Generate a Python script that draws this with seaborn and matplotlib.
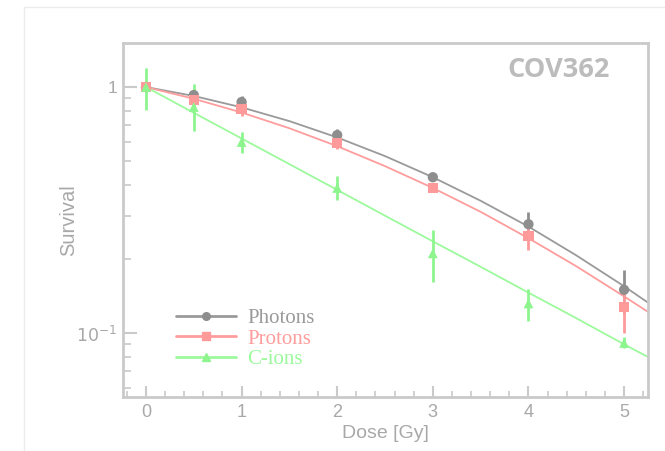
import numpy as np
import pandas as pd
import matplotlib
matplotlib.use("Agg")
import matplotlib.pyplot as plt
from matplotlib.lines import Line2D
from matplotlib.patches import Rectangle
from matplotlib.ticker import FixedLocator, NullFormatter
import seaborn as sns

# ---------------- data ----------------
dose_pts = [0, 0.5, 1, 2, 3, 4, 5]

photons = [1.0, 0.928, 0.869, 0.638, 0.430, 0.277, 0.150]
photons_lo = [0.01, 0.03, 0.05, 0.035, 0.01, 0.03, 0.03]
photons_hi = [0.01, 0.03, 0.05, 0.035, 0.01, 0.035, 0.03]

protons = [1.0, 0.885, 0.814, 0.592, 0.389, 0.248, 0.128]
protons_lo = [0.01, 0.04, 0.05, 0.03, 0.01, 0.03, 0.028]
protons_hi = [0.01, 0.04, 0.05, 0.03, 0.01, 0.022, 0.018]

cions = [1.0, 0.83, 0.598, 0.389, 0.211, 0.132, 0.0912]
cions_lo = [0.19, 0.17, 0.06, 0.042, 0.05, 0.02, 0.004]
cions_hi = [0.2, 0.2, 0.06, 0.046, 0.051, 0.019, 0.005]

# fitted survival curves, read at regular doses
dose_fit = [0, 0.5, 1, 1.5, 2, 2.5, 3, 3.5, 4, 4.5, 5, 5.25]
photons_fit = [1.0, 0.920, 0.827, 0.727, 0.624, 0.524, 0.430, 0.345, 0.271, 0.207, 0.155, 0.133]
protons_fit = [1.0, 0.896, 0.788, 0.680, 0.575, 0.477, 0.389, 0.311, 0.243, 0.187, 0.141, 0.122]
cions_fit = [1.0, 0.786, 0.618, 0.486, 0.382, 0.300, 0.236, 0.186, 0.146, 0.115, 0.090, 0.080]

series_names = ["Photons", "Protons", "C-ions"]
x_ticks = [0, 1, 2, 3, 4, 5]
title_text = "COV362"
xlabel = "Dose [Gy]"
ylabel = "Survival"

# ---------------- style ----------------
sns.set_theme(style="white")
plt.rcParams["font.family"] = ["Liberation Sans", "DejaVu Sans"]

colors = {"Photons": "#9a9a9a", "Protons": "#ff9c9c", "C-ions": "#9cfa9c"}
mcolors = {"Photons": "#8e8e8e", "Protons": "#ff9a9a", "C-ions": "#8ef58e"}
markers = {"Photons": "o", "Protons": "s", "C-ions": "^"}
axis_col = "#cacaca"
text_col = "#a8a8a8"

W, H = 665, 451
fig = plt.figure(figsize=(W / 100, H / 100), dpi=100)
fig.patch.set_facecolor("white")

# faint outer frame
fig.patches.append(Rectangle((24 / W, -0.1), 1.2, 1 - 7 / H + 0.1,
                             transform=fig.transFigure, fill=False,
                             edgecolor="#ececec", linewidth=1.0))

ax = fig.add_axes([123 / W, 1 - 397 / H, 525 / W, 354 / H])
ax.set_facecolor("white")

fit_df = pd.DataFrame({
    "dose": dose_fit * 3,
    "survival": photons_fit + protons_fit + cions_fit,
    "series": ["Photons"] * len(dose_fit) + ["Protons"] * len(dose_fit) + ["C-ions"] * len(dose_fit),
})
sns.lineplot(data=fit_df, x="dose", y="survival", hue="series", palette=colors,
             ax=ax, legend=False, linewidth=1.3, sort=True, estimator=None)

pts = {"Photons": (photons, photons_lo, photons_hi),
       "Protons": (protons, protons_lo, protons_hi),
       "C-ions": (cions, cions_lo, cions_hi)}
for name in series_names:
    y, lo, hi = pts[name]
    ax.errorbar(dose_pts, y, yerr=[lo, hi], fmt="none", ecolor=mcolors[name],
                elinewidth=2.0, capsize=0, zorder=3)
pt_df = pd.DataFrame({
    "dose": dose_pts * 3,
    "survival": photons + protons + cions,
    "series": ["Photons"] * 7 + ["Protons"] * 7 + ["C-ions"] * 7,
})
for name in series_names:
    sub = pt_df[pt_df.series == name]
    sns.scatterplot(data=sub, x="dose", y="survival", ax=ax, color=mcolors[name],
                    marker=markers[name], s=55 if name != "C-ions" else 50,
                    edgecolor="none", zorder=4, legend=False)

ax.set_yscale("log")
ax.set_xlim(-0.24, 5.25)
ax.set_ylim(0.055, 1.51)

ax.xaxis.set_major_locator(FixedLocator(x_ticks))
ax.xaxis.set_minor_locator(FixedLocator([v / 5 for v in range(-1, 27) if v % 5 != 0]))
ax.set_xticklabels([str(t) for t in x_ticks])
ax.yaxis.set_major_locator(FixedLocator([0.1, 1.0]))
ax.set_yticklabels(["$10^{-1}$", "1"])
ax.yaxis.set_minor_locator(FixedLocator([0.06, 0.07, 0.08, 0.09, 0.2, 0.3, 0.4, 0.5,
                                         0.6, 0.7, 0.8, 0.9]))
ax.yaxis.set_minor_formatter(NullFormatter())

ax.tick_params(axis="both", which="both", direction="in", colors=axis_col,
               labelcolor=text_col, labelsize=13)
ax.tick_params(axis="y", which="major", length=10, width=1.5, pad=4, labelsize=12.5)
ax.tick_params(axis="y", which="minor", length=6, width=1.2)
ax.tick_params(axis="x", which="major", length=8, width=1.5, pad=5)
ax.tick_params(axis="x", which="minor", length=4, width=1.2)
ax.tick_params(top=False, right=False, left=True, bottom=True, which="both")

for s in ax.spines.values():
    s.set_color(axis_col)
    s.set_linewidth(2.0)

ax.set_xlabel(xlabel, color=text_col, fontsize=14, labelpad=3)
ax.set_ylabel(ylabel, color=text_col, fontsize=14.5)
ax.yaxis.set_label_coords((78 - 123) / 525, 0.5)

ax.text(0.83, 0.925, title_text, transform=ax.transAxes, ha="center", va="center",
        fontsize=19.5, fontweight="bold", color="#bcbcbc", family=["Open Sans", "DejaVu Sans"])

handles = [Line2D([0], [0], color=colors[n], marker=markers[n], markersize=5.5,
                  markerfacecolor=mcolors[n], markeredgecolor=mcolors[n], linewidth=2)
           for n in series_names]
leg = ax.legend(handles, series_names, loc="center left",
                bbox_to_anchor=((176 - 123) / 525, (397 - 339) / 354),
                frameon=False, borderpad=0, borderaxespad=0, handlelength=2.9,
                handletextpad=0.53, labelspacing=0.05,
                prop={"family": ["Liberation Serif", "DejaVu Serif"], "size": 15})
for t, n in zip(leg.get_texts(), series_names):
    t.set_color(colors[n])

fig.savefig("out.png", dpi=100, facecolor="white")
